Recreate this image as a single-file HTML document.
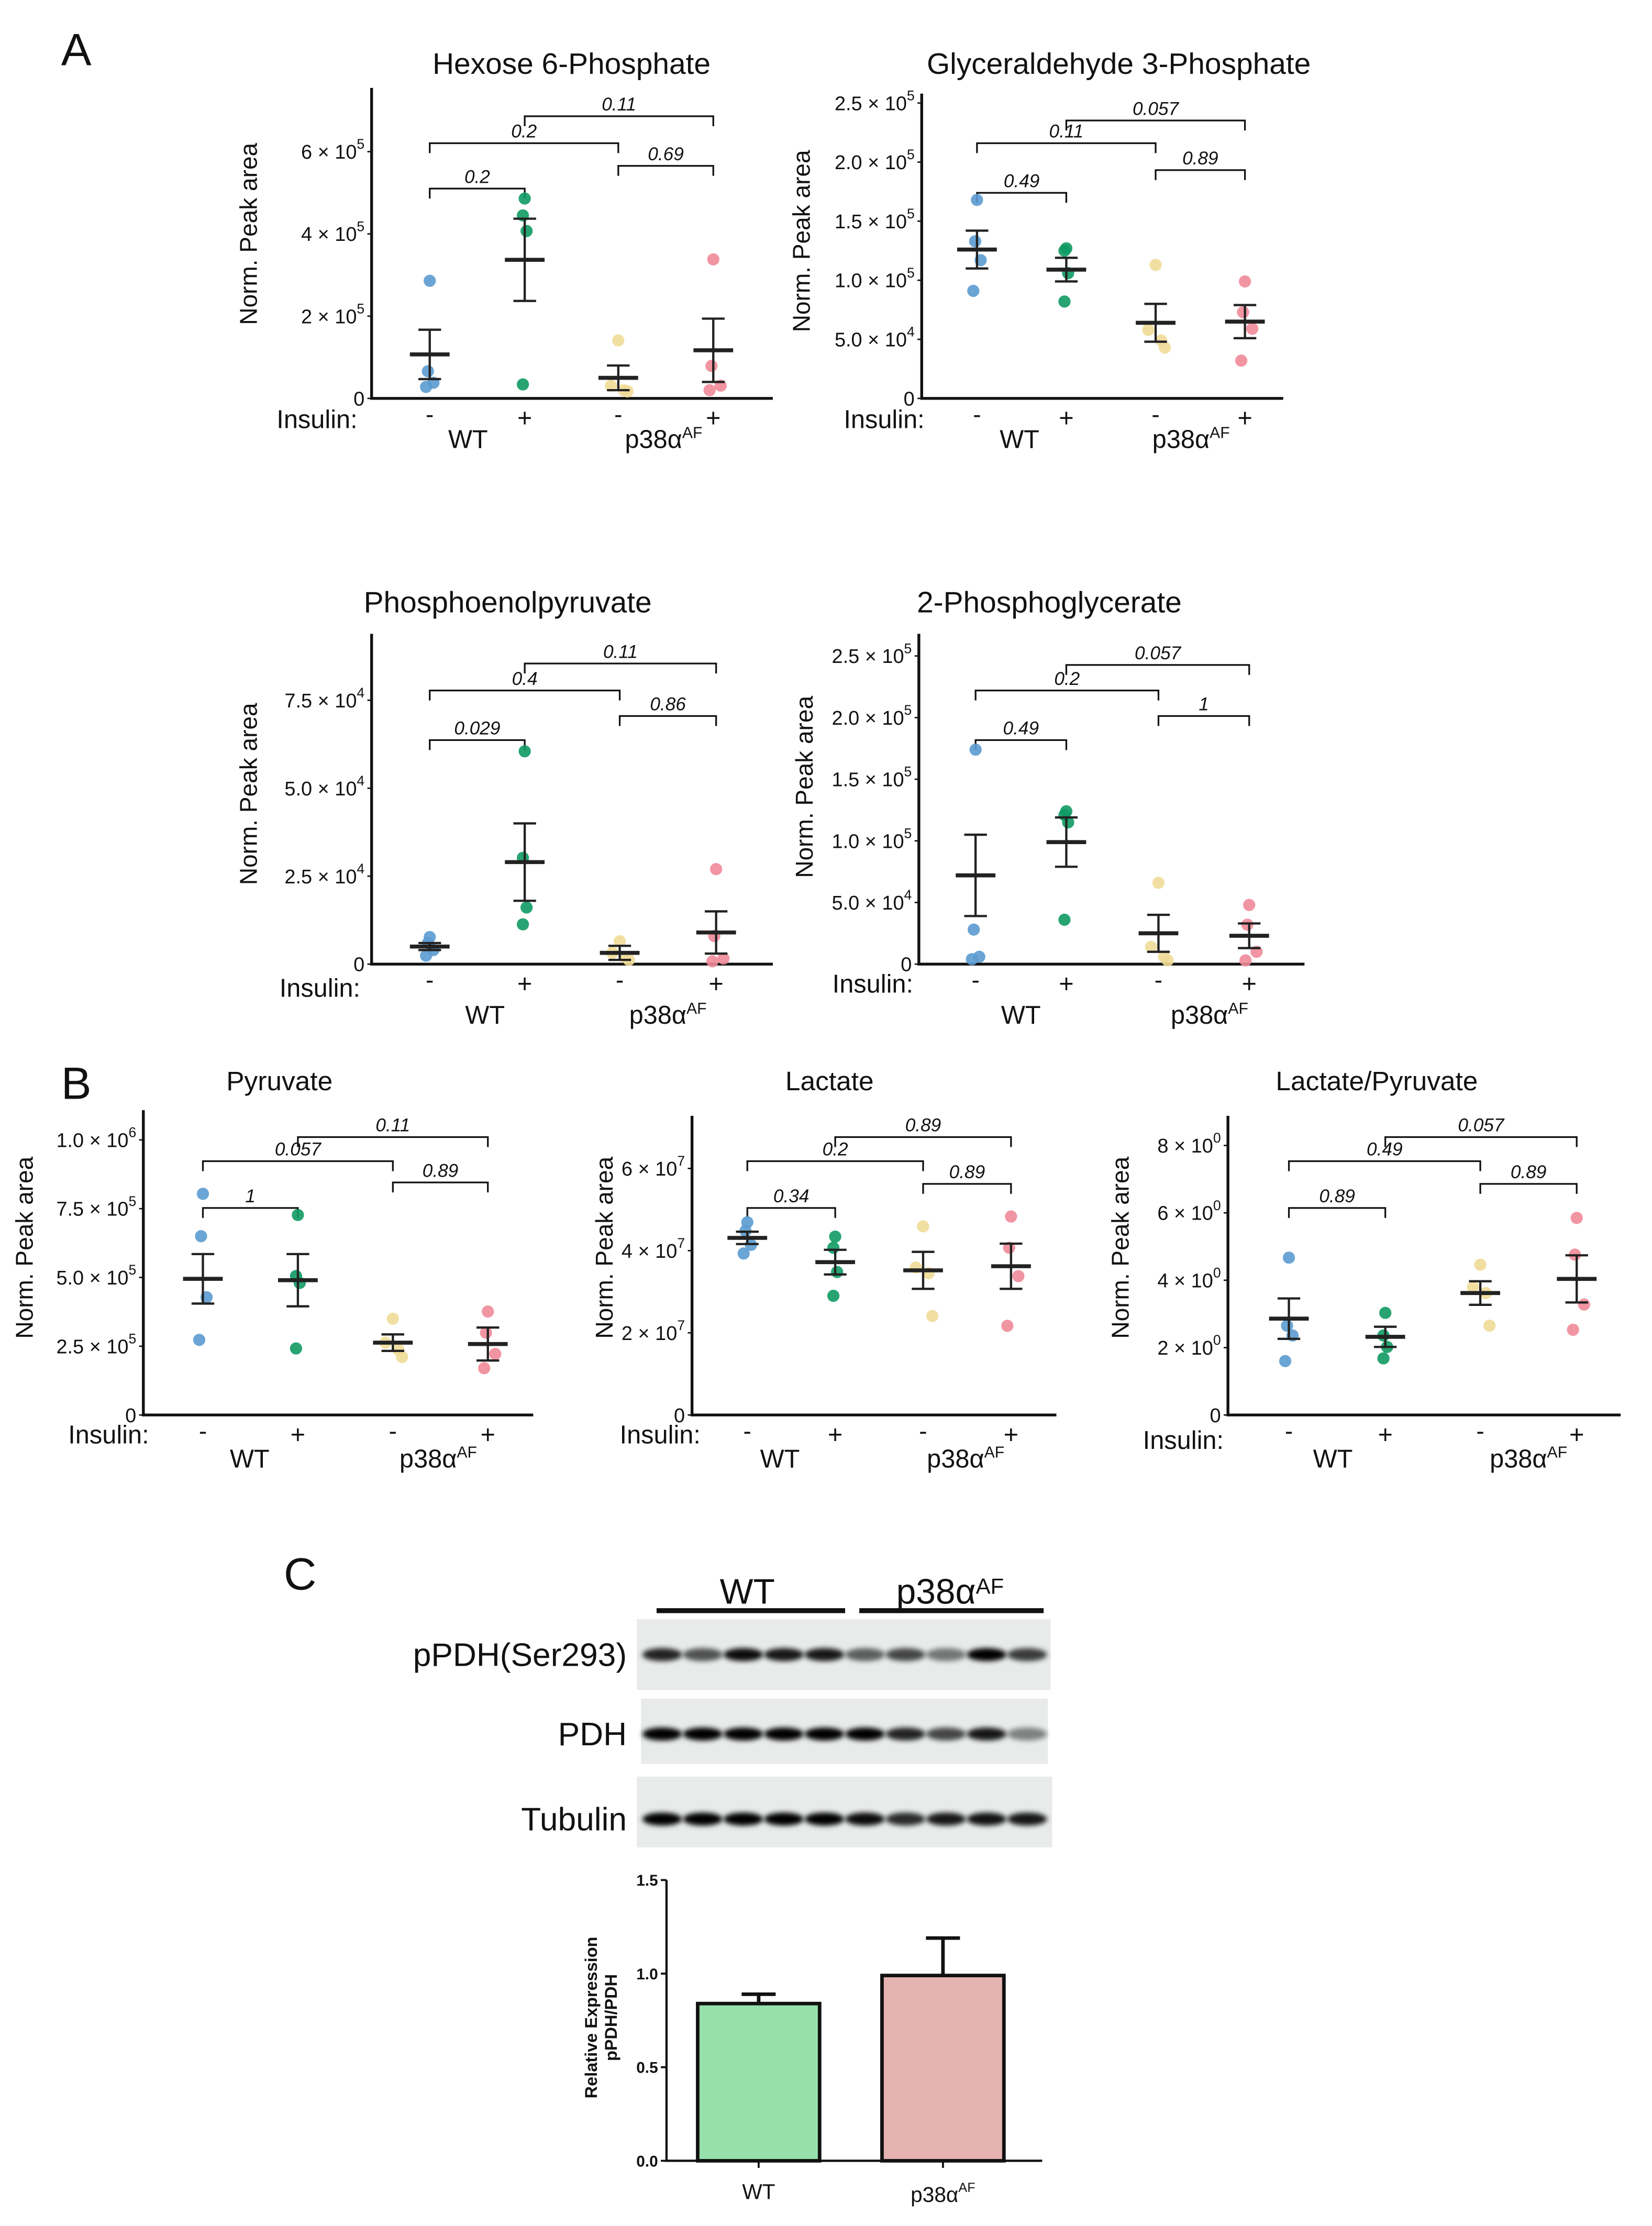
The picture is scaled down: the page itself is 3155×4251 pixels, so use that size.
<!DOCTYPE html>
<html><head><meta charset="utf-8">
<style>
html,body{margin:0;padding:0;background:#fff;}
svg{display:block;}
text{font-family:"Liberation Sans",sans-serif;fill:#111;}
</style></head>
<body>
<svg id="fig" xmlns="http://www.w3.org/2000/svg" width="3155" height="4251" viewBox="0 0 1165 1570">
<defs><filter id="blur" x="-50%" y="-100%" width="200%" height="300%"><feGaussianBlur stdDeviation="1.8"/></filter></defs>
<rect width="1165" height="1570" fill="#fff"/>
<text x="43" y="46" font-size="32">A</text>
<text x="43" y="775" font-size="32">B</text>
<text x="200" y="1121" font-size="32">C</text>
<g id="root"></g>
</svg>
<script>
// ---- data: four groups each (WT-, WT+, AF-, AF+) ----
const groupLabels = ["WT -", "WT +", "p38aAF -", "p38aAF +"];
const pairs = [[0,1],[0,2],[2,3],[1,3]];

const h6pValues = [[2.86e5,0.66e5,0.38e5,0.28e5],[4.86e5,4.45e5,4.07e5,0.34e5],[1.41e5,0.31e5,0.2e5,0.17e5],[3.38e5,0.79e5,0.31e5,0.2e5]];
const h6pMeans = [1.07e5,3.37e5,0.5e5,1.17e5];
const h6pSem = [0.6e5,1.0e5,0.3e5,0.77e5];
const h6pTicks = [0,2e5,4e5,6e5];
const h6pTickLabels = ["0","2 × 10^5","4 × 10^5","6 × 10^5"];
const h6pP = ["0.2","0.2","0.69","0.11"];

const gapValues = [[1.68e5,1.33e5,1.17e5,0.91e5],[1.27e5,1.25e5,1.06e5,0.82e5],[1.13e5,0.58e5,0.49e5,0.43e5],[0.99e5,0.73e5,0.59e5,0.32e5]];
const gapMeans = [1.26e5,1.09e5,0.64e5,0.65e5];
const gapSem = [0.16e5,0.1e5,0.16e5,0.14e5];
const gapTicks = [0,5e4,1e5,1.5e5,2e5,2.5e5];
const gapTickLabels = ["0","5.0 × 10^4","1.0 × 10^5","1.5 × 10^5","2.0 × 10^5","2.5 × 10^5"];
const gapP = ["0.49","0.11","0.89","0.057"];

const pepValues = [[0.77e4,0.6e4,0.4e4,0.24e4],[6.05e4,3.02e4,1.61e4,1.13e4],[0.65e4,0.32e4,0.2e4,0.12e4],[2.7e4,0.8e4,0.16e4,0.08e4]];
const pepMeans = [0.5e4,2.9e4,0.32e4,0.9e4];
const pepSem = [0.1e4,1.1e4,0.2e4,0.6e4];
const pepTicks = [0,2.5e4,5e4,7.5e4];
const pepTickLabels = ["0","2.5 × 10^4","5.0 × 10^4","7.5 × 10^4"];
const pepP = ["0.029","0.4","0.86","0.11"];

const pgValues = [[1.74e5,0.28e5,0.06e5,0.04e5],[1.24e5,1.21e5,1.15e5,0.36e5],[0.66e5,0.14e5,0.06e5,0.03e5],[0.48e5,0.32e5,0.1e5,0.03e5]];
const pgMeans = [0.72e5,0.99e5,0.25e5,0.23e5];
const pgSem = [0.33e5,0.2e5,0.15e5,0.1e5];
const pgTicks = [0,5e4,1e5,1.5e5,2e5,2.5e5];
const pgTickLabels = ["0","5.0 × 10^4","1.0 × 10^5","1.5 × 10^5","2.0 × 10^5","2.5 × 10^5"];
const pgP = ["0.49","0.2","1","0.057"];

const pyrValues = [[8.04e5,6.5e5,4.28e5,2.73e5],[7.27e5,5.05e5,4.8e5,2.42e5],[3.5e5,2.63e5,2.37e5,2.11e5],[3.76e5,2.99e5,2.22e5,1.7e5]];
const pyrMeans = [4.95e5,4.9e5,2.63e5,2.58e5];
const pyrSem = [0.9e5,0.95e5,0.3e5,0.6e5];
const pyrTicks = [0,2.5e5,5e5,7.5e5,1e6];
const pyrTickLabels = ["0","2.5 × 10^5","5.0 × 10^5","7.5 × 10^5","1.0 × 10^6"];
const pyrP = ["1","0.057","0.89","0.11"];

const lacValues = [[4.69e7,4.48e7,4.14e7,3.93e7],[4.34e7,4.07e7,3.48e7,2.9e7],[4.59e7,3.59e7,3.45e7,2.41e7],[4.83e7,4.07e7,3.38e7,2.17e7]];
const lacMeans = [4.31e7,3.72e7,3.52e7,3.62e7];
const lacSem = [0.15e7,0.3e7,0.45e7,0.55e7];
const lacTicks = [0,2e7,4e7,6e7];
const lacTickLabels = ["0","2 × 10^7","4 × 10^7","6 × 10^7"];
const lacP = ["0.34","0.2","0.89","0.89"];

const lpValues = [[4.67,2.65,2.36,1.6],[3.03,2.36,2.02,1.68],[4.46,3.79,3.62,2.65],[5.85,4.76,3.28,2.53]];
const lpMeans = [2.86,2.32,3.62,4.04];
const lpSem = [0.6,0.3,0.35,0.7];
const lpTicks = [0,2,4,6,8];
const lpTickLabels = ["0","2 × 10^0","4 × 10^0","6 × 10^0","8 × 10^0"];
const lpP = ["0.89","0.49","0.89","0.057"];

// bar chart (panel C)
const barCategories = ["WT","p38αAF"];
const barMeans = [0.84,0.99];
const barSem = [0.05,0.20];
const barTicks = [0,0.5,1.0,1.5];
const barTickLabels = ["0.0","0.5","1.0","1.5"];

// western blot band intensities (0..1), 10 lanes
const blotPPDH = [0.85,0.65,0.95,0.9,0.9,0.6,0.7,0.5,1.0,0.75];
const blotPDH = [1.0,1.0,1.0,1.0,1.0,1.0,0.85,0.7,0.9,0.45];
const blotTub = [1.0,1.0,1.0,1.0,1.0,0.95,0.82,0.9,0.92,0.9];

const colors = ["#5b9bd0","#0f9a63","#efdc98","#f08a99"];
const NS = "http://www.w3.org/2000/svg";
const root = document.getElementById("root");
function el(tag, attrs, parent, txt){
  const e = document.createElementNS(NS, tag);
  for (const k in attrs) e.setAttribute(k, attrs[k]);
  if (txt !== undefined) e.textContent = txt;
  (parent||root).appendChild(e);
  return e;
}
function tickText(g, x, y, label, fs){
  const t = el("text", {x:x, y:y, "font-size":fs, "text-anchor":"end"}, g);
  
  
  const parts = label.split("^");
  el("tspan", {}, t, parts[0]);
  if (parts[1]) { el("tspan", {dy:-7, "font-size":fs*0.7}, t, parts[1]); }
}
function groupLabel(g, x, y, fs){
  const t = el("text", {x:x, y:y, "font-size":fs, "text-anchor":"middle"}, g);
  
  
  el("tspan", {}, t, "p38α");
  el("tspan", {dy:-7, "font-size":fs*0.62}, t, "AF");
}
const jitter = [[0,-1,2,-2],[0,-1,1,-1],[0,-4,3,5],[0,-1,4,-2]];

function drawPanel(name, values, means, sem, ticks, tickLabels, pvals, L){
  const g = el("g", {});
  
  
  const y = v => L.zeroY - v * (L.zeroY - L.topY) / L.yMax;
  const t = el("text", {x:L.titleX, y:L.titleY, "font-size":L.titleFs, "text-anchor":"middle"}, g, L.title);
  
  
  const yl = el("text", {x:0, y:0, "font-size":17, "text-anchor":"middle", transform:`translate(${L.ylabX},${L.ylabY}) rotate(-90)`}, g, "Norm. Peak area");
  
  
  const ax = el("path", {d:`M${L.axisX},${L.topY} V${L.zeroY} H${L.right}`, stroke:"#111", "stroke-width":2, fill:"none"}, g);
  
  
  ticks.forEach((tv, i) => {
    el("line", {x1:L.axisX-3, x2:L.axisX, y1:y(tv), y2:y(tv), stroke:"#111", "stroke-width":1}, g);
    tickText(g, L.axisX-5, y(tv)+5, tickLabels[i], 14);
  });
  pairs.forEach((p, i) => {
    const by = L.brY[i], xa = L.gx[p[0]], xb = L.gx[p[1]];
    const b = el("path", {d:`M${xa},${by+7} V${by} H${xb} V${by+7}`, stroke:"#111", "stroke-width":1.2, fill:"none"}, g);
    
    
    const bt = el("text", {x:(xa+xb)/2, y:by-4, "font-size":13, "font-style":"italic", "text-anchor":"middle"}, g, pvals[i]);
    
    
  });
  values.forEach((arr, gi) => {
    arr.forEach((v, k) => {
      const c = el("circle", {cx:L.gx[gi] + jitter[gi][k]*1.3, cy:y(v), r:4.3, fill:colors[gi], opacity:0.9}, g);
      
      
    });
    const m = means[gi], s = sem[gi], x = L.gx[gi];
    const eb = el("path", {d:`M${x},${y(m+s)} V${y(Math.max(0,m-s))} M${x-8},${y(m+s)} H${x+8} M${x-8},${y(Math.max(0,m-s))} H${x+8}`, stroke:"#222", "stroke-width":1.6, fill:"none"}, g);
    
    
    const ml = el("line", {x1:x-14, x2:x+14, y1:y(m), y2:y(m), stroke:"#222", "stroke-width":2.8}, g);
    
    
    const sg = el("text", {x:x, y:L.zeroY+(gi%2?20:17), "font-size":gi%2?18:17, "text-anchor":"middle"}, g, gi%2 ? "+" : "-");
    
    
  });
  const ins = el("text", {x:L.insX, y:L.insY, "font-size":18}, g, "Insulin:");
  
  
  const wt = el("text", {x:L.wtX, y:L.grpY, "font-size":18, "text-anchor":"middle"}, g, "WT");
  
  
  groupLabel(g, L.afX, L.grpY, 18);
}

drawPanel("hexose-6-phosphate", h6pValues, h6pMeans, h6pSem, h6pTicks, h6pTickLabels, h6pP,
 {title:"Hexose 6-Phosphate", titleX:403, titleY:52, titleFs:21, axisX:262, right:545, zeroY:281, topY:62, yMax:7.55e5,
  gx:[303,370,436,503], brY:[133,101,117,82], ylabX:181, ylabY:165, insX:195, insY:302, wtX:330, afX:468, grpY:316});
drawPanel("glyceraldehyde-3-phosphate", gapValues, gapMeans, gapSem, gapTicks, gapTickLabels, gapP,
 {title:"Glyceraldehyde 3-Phosphate", titleX:789, titleY:52, titleFs:21, axisX:650, right:905, zeroY:281, topY:66, yMax:2.58e5,
  gx:[689,752,815,878], brY:[136,101,120,85], ylabX:571, ylabY:170, insX:595, insY:302, wtX:719, afX:840, grpY:316});
drawPanel("phosphoenolpyruvate", pepValues, pepMeans, pepSem, pepTicks, pepTickLabels, pepP,
 {title:"Phosphoenolpyruvate", titleX:358, titleY:432, titleFs:21, axisX:262, right:545, zeroY:680, topY:447, yMax:9.39e4,
  gx:[303,370,437,505], brY:[522,487,505,468], ylabX:181, ylabY:560, insX:197, insY:703, wtX:342, afX:471, grpY:722});
drawPanel("2-phosphoglycerate", pgValues, pgMeans, pgSem, pgTicks, pgTickLabels, pgP,
 {title:"2-Phosphoglycerate", titleX:740, titleY:432, titleFs:21, axisX:648, right:920, zeroY:680, topY:447, yMax:2.68e5,
  gx:[688,752,817,881], brY:[522,487,505,469], ylabX:573, ylabY:555, insX:587, insY:700, wtX:720, afX:853, grpY:722});
drawPanel("pyruvate", pyrValues, pyrMeans, pyrSem, pyrTicks, pyrTickLabels, pyrP,
 {title:"Pyruvate", titleX:197, titleY:769, titleFs:19, axisX:101, right:376, zeroY:998, topY:783, yMax:1.108e6,
  gx:[143,210,277,344], brY:[852,819,834,802], ylabX:23, ylabY:880, insX:48, insY:1018, wtX:176, afX:309, grpY:1035});
drawPanel("lactate", lacValues, lacMeans, lacSem, lacTicks, lacTickLabels, lacP,
 {title:"Lactate", titleX:585, titleY:769, titleFs:19, axisX:488, right:745, zeroY:998, topY:787, yMax:7.28e7,
  gx:[527,589,651,713], brY:[852,819,835,802], ylabX:432, ylabY:880, insX:437, insY:1018, wtX:550, afX:681, grpY:1035});
drawPanel("lactate-pyruvate", lpValues, lpMeans, lpSem, lpTicks, lpTickLabels, lpP,
 {title:"Lactate/Pyruvate", titleX:971, titleY:769, titleFs:19, axisX:866, right:1143, zeroY:998, topY:787, yMax:8.88,
  gx:[909,977,1044,1112], brY:[852,819,835,802], ylabX:796, ylabY:880, insX:806, insY:1022, wtX:940, afX:1078, grpY:1035});

// ---- western blot ----
(function(){
  const g = el("g", {});
  
  
  const wt = el("text", {x:527, y:1131, "font-size":25, "text-anchor":"middle"}, g, "WT");
  
  
  groupLabel(g, 670, 1131, 25);
  el("line", {x1:463, x2:596, y1:1136, y2:1136, stroke:"#111", "stroke-width":3.5}, g);
  el("line", {x1:606, x2:736, y1:1136, y2:1136, stroke:"#111", "stroke-width":3.5}, g);
  const rows = [["pPDH(Ser293)", blotPPDH, 449, 1142, 292, 50, 1167],
                ["PDH", blotPDH, 452, 1198, 287, 46, 1223],
                ["Tubulin", blotTub, 449, 1253, 293, 50, 1283]];
  rows.forEach(r => {
    const lab = el("text", {x:442, y:r[6]+8, "font-size":23, "text-anchor":"end"}, g, r[0]);
    
    
    const bg = el("rect", {x:r[2], y:r[3], width:r[4], height:r[5], fill:"#e9ebeb"}, g);
    
    
    r[1].forEach((v, i) => {
      const cx = 467 + i * 28.6;
      const b = el("ellipse", {cx:cx, cy:r[6], rx:14, ry:4.6, fill:"#000", opacity:v, filter:"url(#blur)"}, g);
      
      
    });
  });
})();

// ---- bar chart ----
(function(){
  const g = el("g", {});
  
  
  const zeroY = 1524, topY = 1326, yMax = 1.5, axisX = 470;
  const y = v => zeroY - v * (zeroY - topY) / yMax;
  const bx = [535, 665], bw = 86, fills = ["#96e0ab", "#e5b3b0"];
  el("path", {d:`M${axisX},${topY} V${zeroY} H${735}`, stroke:"#111", "stroke-width":1.6, fill:"none"}, g);
  barTicks.forEach((tv, i) => {
    el("line", {x1:axisX-4, x2:axisX, y1:y(tv), y2:y(tv), stroke:"#111", "stroke-width":1.4}, g);
    const t = el("text", {x:axisX-6, y:y(tv)+4, "font-size":11, "font-weight":"bold", "text-anchor":"end"}, g, barTickLabels[i]);
    
    
  });
  const yt = el("text", {x:0, y:0, "font-size":12, "font-weight":"bold", "text-anchor":"middle", transform:"translate(421,1423) rotate(-90)"}, g);
  
  
  el("tspan", {x:0, dy:0}, yt, "Relative Expression");
  el("tspan", {x:0, dy:14}, yt, "pPDH/PDH");
  barMeans.forEach((m, i) => {
    const x = bx[i];
    const eb = el("path", {d:`M${x},${y(m)} V${y(m+barSem[i])} M${x-12},${y(m+barSem[i])} H${x+12}`, stroke:"#111", "stroke-width":2.5, fill:"none"}, g);
    
    
    const r = el("rect", {x:x-bw/2, y:y(m), width:bw, height:zeroY-y(m), fill:fills[i], stroke:"#111", "stroke-width":2.5}, g);
    
    
    el("line", {x1:x, x2:x, y1:zeroY, y2:zeroY+5, stroke:"#111", "stroke-width":1.4}, g);
  });
  const wt = el("text", {x:bx[0], y:1551, "font-size":15, "text-anchor":"middle"}, g, barCategories[0]);
  
  
  groupLabel(g, bx[1], 1553, 15);
})();
</script>
</body></html>
